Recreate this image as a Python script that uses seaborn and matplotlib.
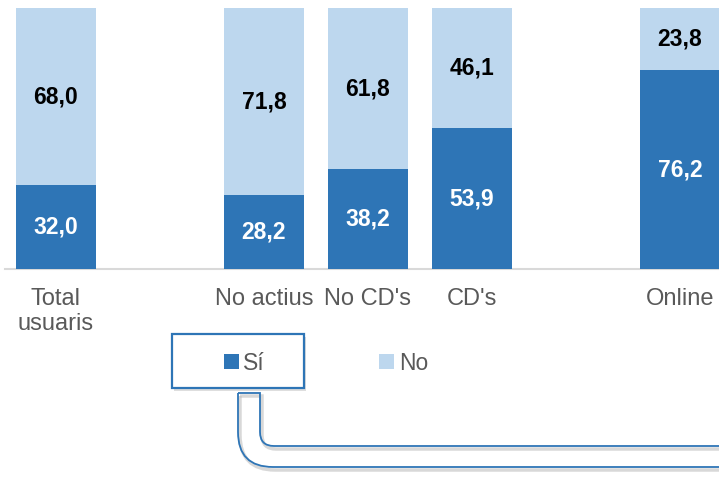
import seaborn as sns
import pandas as pd
import matplotlib.pyplot as plt
from matplotlib.patches import Rectangle, Patch
from matplotlib.path import Path
from matplotlib.patches import PathPatch

categories = ["Total\nusuaris", "No actius", "No CD's", "CD's", "Online"]
si_values = [32.0, 28.2, 38.2, 53.9, 76.2]
no_values = [68.0, 71.8, 61.8, 46.1, 23.8]
legend_labels = ["Sí", "No"]

# empty slots in the category axis make the gaps between groups
order = ["Total\nusuaris", " ", "No actius", "No CD's", "CD's", "  ", "Online"]

dark = "#2E75B6"
light = "#BDD7EE"
grey_text = "#595959"

sns.set_style("white")
plt.rcParams['font.family'] = ['Liberation Sans', 'DejaVu Sans']

df = pd.DataFrame({
    "cat": categories,
    "si": si_values,
    "no": no_values,
})
df["total"] = df["si"] + df["no"]

fig = plt.figure(figsize=(7.19, 4.83), dpi=100)
ax = fig.add_axes([5 / 719, (483 - 269) / 483, 714 / 719, 261 / 483])

sns.barplot(data=df, x="cat", y="total", order=order, color=light,
            width=0.77, saturation=1, ax=ax, errorbar=None, linewidth=0)
sns.barplot(data=df, x="cat", y="si", order=order, color=dark,
            width=0.77, saturation=1, ax=ax, errorbar=None, linewidth=0)

ax.set_xlim(-0.49, 6.375)
ax.set_ylim(0, 100)
ax.set_xlabel("")
ax.set_ylabel("")
ax.set_yticks([])
ax.tick_params(axis="x", length=0, pad=14, labelsize=17, labelcolor=grey_text)
for s in ["top", "right", "left"]:
    ax.spines[s].set_visible(False)
ax.spines["bottom"].set_color("#D9D9D9")
ax.spines["bottom"].set_linewidth(1.5)
ax.spines["bottom"].set_zorder(0)
for lab in ax.get_xticklabels():
    lab.set_linespacing(1.15)

# value labels in the middle of each segment
for cat, s, n in zip(categories, si_values, no_values):
    pos = order.index(cat)
    ax.text(pos, s / 2, f"{s:.1f}".replace(".", ","), ha="center", va="center",
            color="white", fontsize=16.5, fontweight="bold", clip_on=False)
    ax.text(pos, s + n / 2, f"{n:.1f}".replace(".", ","), ha="center", va="center",
            color="black", fontsize=16.5, fontweight="bold", clip_on=False)

# overlay in pixel units for legend box and connector
ov = fig.add_axes([0, 0, 1, 1], zorder=5)
ov.set_xlim(0, 719)
ov.set_ylim(483, 0)
ov.axis("off")
ov.patch.set_alpha(0)


def connector(offset, color, lw, alpha=1.0):
    dx, dy = offset
    outer = Path([(238 + dx, 393 + dy), (238 + dx, 432 + dy), (238 + dx, 467 + dy),
                  (273 + dx, 467 + dy), (725, 467 + dy)],
                 [Path.MOVETO, Path.LINETO, Path.CURVE3, Path.CURVE3, Path.LINETO])
    inner = Path([(238 + dx, 393 + dy), (260 + dx, 393 + dy), (260 + dx, 432 + dy),
                  (260 + dx, 446 + dy), (274 + dx, 446 + dy), (725, 446 + dy)],
                 [Path.MOVETO, Path.LINETO, Path.LINETO, Path.CURVE3, Path.CURVE3, Path.LINETO])
    for p in (outer, inner):
        ov.add_patch(PathPatch(p, fill=False, edgecolor=color, lw=lw, alpha=alpha,
                               capstyle="butt", joinstyle="miter"))


connector((2, 3), "#BFBFBF", 2.5, 0.6)
connector((0, 0), dark, 1.3)

ov.add_patch(Rectangle((174, 337), 132, 54, facecolor="#D0D0D0", edgecolor="none", alpha=0.7))
ov.add_patch(Rectangle((172, 334), 132, 54, facecolor="white", edgecolor=dark, lw=1.6))

handles = [Patch(facecolor=dark, edgecolor="none"), Patch(facecolor=light, edgecolor="none")]
leg = ov.legend(handles, legend_labels, ncol=2, frameon=False,
                loc="center left", bbox_to_anchor=(203 / 719, 1 - 363 / 483),
                bbox_transform=fig.transFigure, fontsize=16.5, labelcolor=grey_text,
                handlelength=0.65, handleheight=0.65, handletextpad=0.2,
                columnspacing=5.0)

fig.savefig("out.png", dpi=100)
